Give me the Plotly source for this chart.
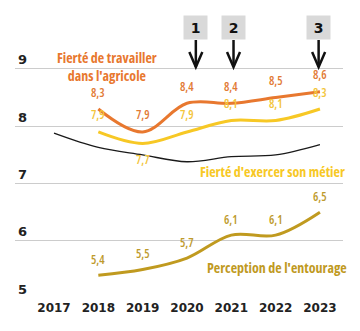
import plotly.graph_objects as go

years_all = [2017, 2018, 2019, 2020, 2021, 2022, 2023]
years = [2018, 2019, 2020, 2021, 2022, 2023]
fierte_travailler = [8.3, 7.9, 8.4, 8.4, 8.5, 8.6]
fierte_exercer = [7.9, 7.7, 7.9, 8.1, 8.1, 8.3]
perception = [5.4, 5.5, 5.7, 6.1, 6.1, 6.5]
reference_line = [7.88, 7.63, 7.5, 7.38, 7.47, 7.5, 7.68]
event_labels = ["1", "2", "3"]
event_x = [2020.2, 2021.05, 2022.97]
y_ticks = [5, 6, 7, 8, 9]

C_OR = "#E8782F"
C_YE = "#F7C825"
C_GO = "#C09A1F"
FONT = "Open Sans, sans-serif"

def cond(t, bold=False):
    s = f'<span style="font-stretch:75%">{t}</span>'
    return f"<b>{s}</b>" if bold else s

fig = go.Figure()
fig.add_trace(go.Scatter(x=years_all, y=reference_line, mode="lines",
                         line=dict(color="#1a1a1a", width=1.3, shape="spline"), hoverinfo="skip"))
fig.add_trace(go.Scatter(x=years, y=perception, mode="lines",
                         line=dict(color=C_GO, width=3, shape="spline")))
fig.add_trace(go.Scatter(x=years, y=fierte_exercer, mode="lines",
                         line=dict(color=C_YE, width=3, shape="spline")))
fig.add_trace(go.Scatter(x=years, y=fierte_travailler, mode="lines",
                         line=dict(color=C_OR, width=3, shape="spline")))

ann = []
def lab(x, y, t, c, shift):
    ann.append(dict(x=x, y=y, text=cond(t), showarrow=False, yshift=shift,
                    font=dict(family=FONT, size=12, color=c, weight=600)))

for x, v in zip(years, fierte_travailler):
    lab(x, v, f"{v:.1f}".replace(".", ","), "#E27A35", 17)
for x, v in zip(years, fierte_exercer):
    lab(x, v, f"{v:.1f}".replace(".", ","), "#F3C53A", -16 if x == 2019 else 17)
for x, v in zip(years, perception):
    lab(x, v, f"{v:.1f}".replace(".", ","), "#BE9A2C", 16)

ann.append(dict(x=2018.2, y=9.05, text=cond("Fierté de travailler", True) + "<br>" + cond("dans l'agricole", True),
                showarrow=False, font=dict(family=FONT, size=14, color=C_OR), align="center"))
ann.append(dict(x=2021.94, y=7.21, text=cond("Fierté d'exercer son métier", True), showarrow=False,
                font=dict(family=FONT, size=14, color=C_YE)))
ann.append(dict(x=2022.03, y=5.54, text=cond("Perception de l'entourage", True), showarrow=False,
                font=dict(family=FONT, size=14, color=C_GO)))

# plot area: top pixel 46, bottom pixel 299
def yp(py):
    return (299 - py) / 253.0

shapes = []
for t, x in zip(event_labels, event_x):
    ann.append(dict(x=x, y=yp(27.5), xref="x", yref="paper", yanchor="middle", text=f"<b>{t}</b>",
                    showarrow=False, bgcolor="#d9d9d9", width=21, height=21,
                    font=dict(family="DejaVu Sans, sans-serif", size=14, color="#111")))
    shapes.append(dict(type="line", xref="x", yref="paper", x0=x, x1=x, y0=yp(40), y1=yp(67),
                       line=dict(color="#111", width=2.5)))
    dx = 6.5 / 44.33
    shapes.append(dict(type="path", xref="x", yref="paper",
                       path=f"M {x-dx},{yp(52)} L {x},{yp(67)} L {x+dx},{yp(52)}",
                       line=dict(color="#111", width=2.5)))

fig.update_layout(
    width=360, height=331,
    margin=dict(l=15, r=17, t=46, b=32),
    paper_bgcolor="white", plot_bgcolor="white",
    showlegend=False,
    annotations=ann, shapes=shapes,
    xaxis=dict(range=[2016.12, 2023.52], tickvals=years_all,
               ticktext=[f"<b>{y}</b>" for y in years_all], showgrid=False, zeroline=False,
               tickfont=dict(family="DejaVu Sans, sans-serif", size=12, color="#222"), ticks=""),
    yaxis=dict(range=[4.985, 9.4], tickvals=y_ticks, ticktext=[f"<b>{v}</b>" for v in y_ticks],
               showgrid=True, gridcolor="#cccccc", gridwidth=1, zeroline=False,
               ticklabelposition="inside top",
               tickfont=dict(family="DejaVu Sans, sans-serif", size=13, color="#222")),
)

fig.write_html("out.html")
